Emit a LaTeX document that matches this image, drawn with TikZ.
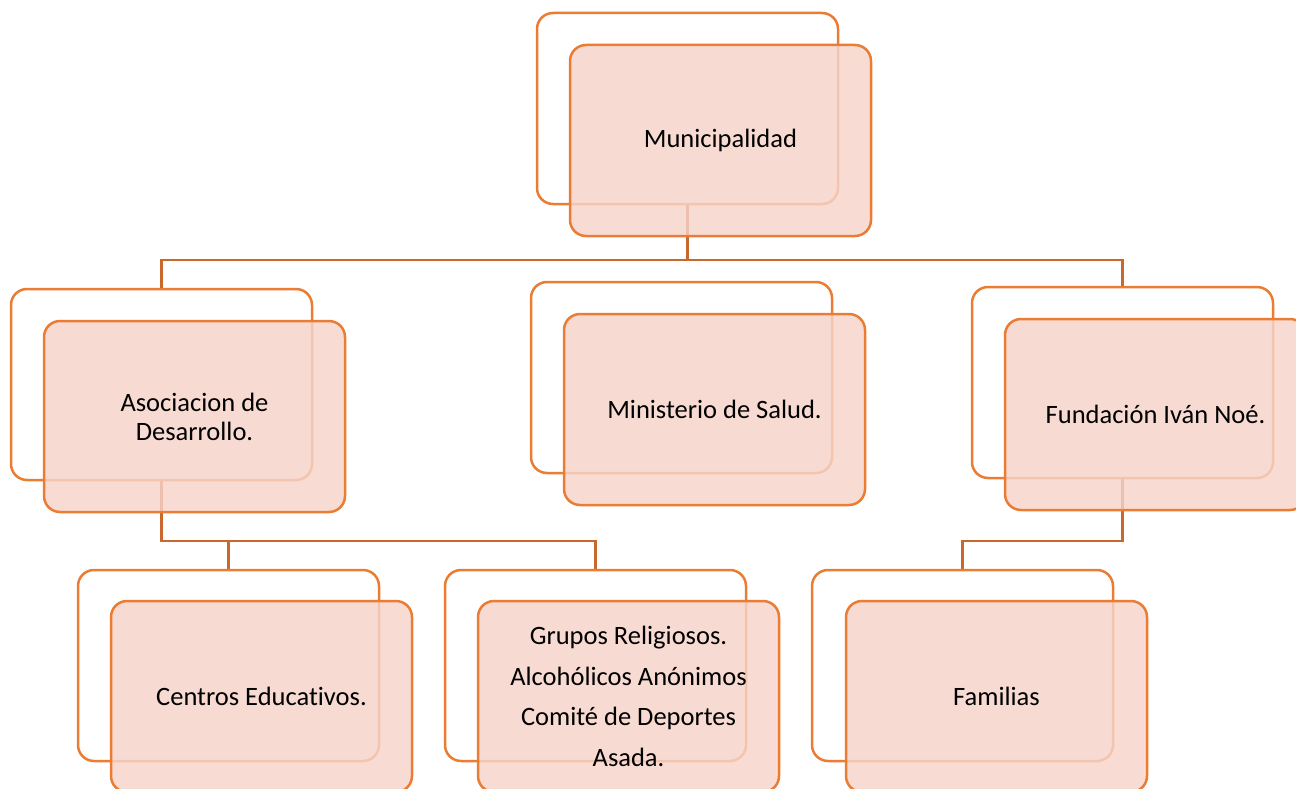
\documentclass[tikz,border=0pt]{standalone}
\usepackage{fontspec}
\setmainfont{Carlito}[Ligatures={NoCommon}]
\usetikzlibrary{backgrounds}
\definecolor{boxline}{RGB}{234,124,52}
\definecolor{connline}{RGB}{200,104,44}
\definecolor{frontfill}{RGB}{246,212,202}
\tikzset{
  backbox/.style={draw=boxline, line width=2.5pt, fill=white, rounded corners=16pt,
    minimum width=301pt, minimum height=191pt, inner sep=0pt},
  frontbox/.style={draw=boxline, line width=2.5pt, fill=frontfill, fill opacity=0.82, text opacity=1,
    rounded corners=16pt, minimum width=301pt, minimum height=191pt, inner sep=0pt,
    align=center, font=\fontsize{26.5}{29}\selectfont, text=black},
  conn/.style={draw=connline, line width=2.5pt}
}
\begin{document}
\begin{tikzpicture}[x=1pt,y=-1pt]
\clip (0,0) rectangle (1296,789);
% back boxes
\node[backbox] (mb) at (687.5,108.5) {};
\node[backbox] (ab) at (161.5,384.5) {};
\node[backbox] (sb) at (681.5,377.5) {};
\node[backbox] (fb) at (1122.5,382.5) {};
\node[backbox] (cb) at (228.5,665.5) {};
\node[backbox] (gb) at (595.5,665.5) {};
\node[backbox] (pb) at (962.5,665.5) {};
% front boxes
\node[frontbox] (m) at (720.5,140.5) {Municipalidad};
\node[frontbox] (a) at (194.5,416.5) {Asociacion de\\Desarrollo.};
\node[frontbox] (s) at (714.5,409.5) {Ministerio de Salud.};
\node[frontbox] (f) at (1155.5,414.5) {Fundación Iván Noé.};
\node[frontbox] (c) at (261.5,696.5) {Centros Educativos.};
\node[frontbox, font=\fontsize{26.5}{40.7}\selectfont] (g) at (628.5,696.5) {Grupos Religiosos.\\Alcohólicos Anónimos\\Comité de Deportes\\Asada.};
\node[frontbox] (p) at (996.5,696.5) {Familias};
% connectors
\coordinate (busTop) at (687.5,260);
\coordinate (busA) at (161.5,541);
\coordinate (busF) at (1122.5,541);
\begin{pgfonlayer}{background}
\draw[conn] (mb.south) -- (busTop) -| (ab.north);
\draw[conn] (busTop) -| (fb.north);
\draw[conn] (ab.south) -- (busA) -| (gb.north);
\draw[conn] (busA) -| (cb.north);
\draw[conn] (fb.south) -- (busF) -| (pb.north);
\end{pgfonlayer}
\end{tikzpicture}
\end{document}
